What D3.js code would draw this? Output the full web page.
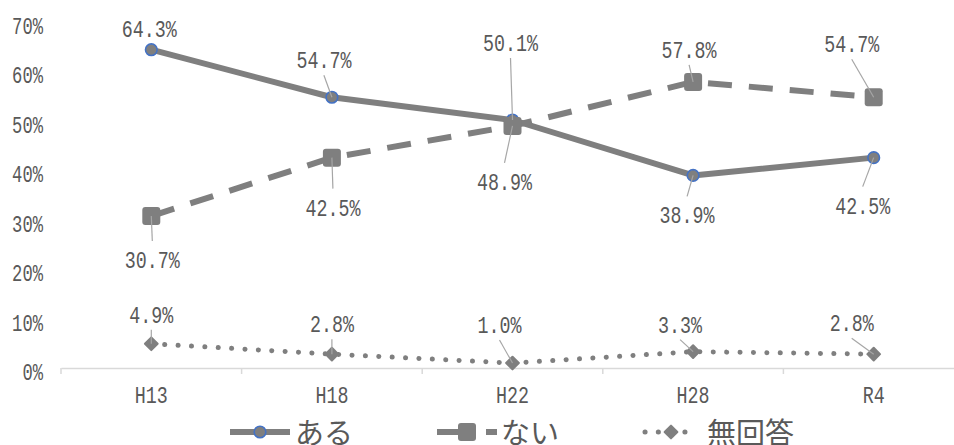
<!DOCTYPE html>
<html>
<head>
<meta charset="utf-8">
<script src="https://cdn.jsdelivr.net/npm/d3@7"></script>
<style>
  body { margin: 0; background: #fff; }
  svg { display: block; }
</style>
</head>
<body>
<script>
// data
var categories = ["H13", "H18", "H22", "H28", "R4"];
var aru = [64.3, 54.7, 50.1, 38.9, 42.5];
var nai = [30.7, 42.5, 48.9, 57.8, 54.7];
var mukaitou = [4.9, 2.8, 1.0, 3.3, 2.8];
var seriesNames = ["ある", "ない", "無回答"];
var yTicks = [0, 10, 20, 30, 40, 50, 60, 70];

// label placement (offset from marker: dx, baseline dy)
var labelOffsets = [
	[[-2, -13], [-8, -29], [-2, -69], [-6, 48], [-11, 56]],
	[[1, 52], [1, 58], [-8, 64], [-4, -24], [-22, -45]],
	[[0, -21], [0, -22], [-13, -30], [-13, -19], [-22, -23]]
];

var width = 954, height = 445,
	gray = "#7f7f7f",
	textColor = "#595959",
	monoFont = "'Liberation Mono', 'DejaVu Sans Mono', monospace",
	jpFont = "'Noto Sans CJK JP', sans-serif";

var svg = d3.select("body").append("svg")
	.attr("width", width)
	.attr("height", height);

var x = d3.scaleBand().domain(categories).range([61, 964]);
var y = d3.scaleLinear().domain([0, 70]).range([368, 21.5]);

function cx(c) { return x(c) + x.bandwidth() / 2; }

function squeeze(sel, perChar) {
	sel.attr("textLength", function () { return this.textContent.length * perChar; })
		.attr("lengthAdjust", "spacingAndGlyphs");
}

// y axis
var yAxis = svg.append("g")
	.attr("transform", "translate(43,0)")
	.call(d3.axisLeft(y).tickValues(yTicks).tickSize(0).tickPadding(0)
		.tickFormat(function (d) { return d + "%"; }));
yAxis.select(".domain").remove();
yAxis.attr("font-family", monoFont).attr("font-size", 24);
yAxis.selectAll("text")
	.attr("x", 0).attr("dy", null).attr("y", 11.5)
	.attr("fill", textColor)
	.call(squeeze, 10.3);

// x axis
var xAxis = svg.append("g")
	.attr("transform", "translate(0,368)")
	.call(d3.axisBottom(x).tickSize(0).tickSizeOuter(0).tickPadding(0));
xAxis.attr("font-family", monoFont).attr("font-size", 24);
xAxis.select(".domain").attr("stroke", "#d9d9d9").attr("stroke-width", 1.5);
xAxis.selectAll("text")
	.attr("dy", null).attr("y", 35)
	.attr("fill", textColor)
	.call(squeeze, 11);
xAxis.selectAll("line.bound")
	.data(d3.range(categories.length + 1))
	.enter().append("line")
	.attr("class", "bound")
	.attr("x1", function (i) { return x.range()[0] + i * x.step(); })
	.attr("x2", function (i) { return x.range()[0] + i * x.step(); })
	.attr("y1", 0).attr("y2", 6)
	.attr("stroke", "#d9d9d9").attr("stroke-width", 1.5);

// series
var series = [
	{ name: seriesNames[0], values: aru, dash: null, cap: "butt", marker: "circle" },
	{ name: seriesNames[1], values: nai, dash: "24,17", cap: "butt", marker: "square" },
	{ name: seriesNames[2], values: mukaitou, dash: "0.1,13.3", cap: "round", marker: "diamond" }
];

function drawMarker(g, type) {
	if (type === "circle") {
		g.append("circle").attr("r", 5.8)
			.attr("fill", gray).attr("stroke", "#4472c4").attr("stroke-width", 1.6);
	} else if (type === "square") {
		g.append("rect").attr("x", -9).attr("y", -9).attr("width", 18).attr("height", 18)
			.attr("rx", 3).attr("fill", gray);
	} else {
		g.append("rect").attr("x", -5.5).attr("y", -5.5).attr("width", 11).attr("height", 11)
			.attr("rx", 1).attr("transform", "rotate(45)").attr("fill", gray);
	}
}

var line = d3.line()
	.x(function (d, i) { return cx(categories[i]); })
	.y(function (d) { return y(d); });

series.forEach(function (s) {
	var g = svg.append("g");
	g.append("path")
		.attr("d", line(s.values))
		.attr("fill", "none")
		.attr("stroke", gray)
		.attr("stroke-width", s.marker === "diamond" ? 5 : 6)
		.attr("stroke-linecap", s.cap)
		.attr("stroke-linejoin", "round")
		.attr("stroke-dasharray", s.dash);
	g.selectAll("g.pt")
		.data(s.values)
		.enter().append("g")
		.attr("class", "pt")
		.attr("transform", function (d, i) { return "translate(" + cx(categories[i]) + "," + y(d) + ")"; })
		.each(function () { drawMarker(d3.select(this), s.marker); });
});

// data labels with leader lines
series.forEach(function (s, si) {
	var g = svg.append("g");
	s.values.forEach(function (v, i) {
		var mx = cx(categories[i]), my = y(v);
		var off = labelOffsets[si][i];
		var lx = mx + off[0], ly = my + off[1];
		var above = off[1] < 0;
		var ey = above ? ly + 7 : ly - 27;
		if (Math.abs(ey - my) > 6) {
			g.append("line")
				.attr("x1", lx).attr("y1", ey)
				.attr("x2", mx).attr("y2", my)
				.attr("stroke", "#a6a6a6").attr("stroke-width", 1.2);
		}
		g.append("text")
			.text(v.toFixed(1) + "%")
			.attr("x", lx).attr("y", ly)
			.attr("text-anchor", "middle")
			.attr("font-family", monoFont).attr("font-size", 24)
			.attr("fill", textColor)
			.call(squeeze, 11);
	});
});

// legend
var legendX = 230, legendStep = 207, legendY = 432;
var legendDash = [null, "26,23,12", "0.1,13.2"];
var legendLine = [[0, 60], [0, 60], [1, 54]];
var legendMarkerX = [30, 30, 27];
var legendTextX = [65, 64, 63];
var legend = svg.selectAll("g.legend")
	.data(series)
	.enter().append("g")
	.attr("class", "legend")
	.attr("transform", function (d, i) { return "translate(" + (legendX + i * legendStep) + "," + legendY + ")"; });

legend.append("line")
	.attr("x1", function (d, i) { return legendLine[i][0]; })
	.attr("x2", function (d, i) { return legendLine[i][1]; })
	.attr("stroke", gray)
	.attr("stroke-width", function (d, i) { return i === 2 ? 5 : 6; })
	.attr("stroke-linecap", function (d, i) { return i === 2 ? "round" : "butt"; })
	.attr("stroke-dasharray", function (d, i) { return legendDash[i]; });

legend.append("g")
	.attr("transform", function (d, i) { return "translate(" + legendMarkerX[i] + ",0)"; })
	.each(function (d) { drawMarker(d3.select(this), d.marker); });

legend.append("text")
	.text(function (d) { return d.name; })
	.attr("x", function (d, i) { return legendTextX[i]; })
	.attr("y", 12)
	.attr("font-family", jpFont).attr("font-size", 29)
	.attr("fill", textColor);
</script>
</body>
</html>
